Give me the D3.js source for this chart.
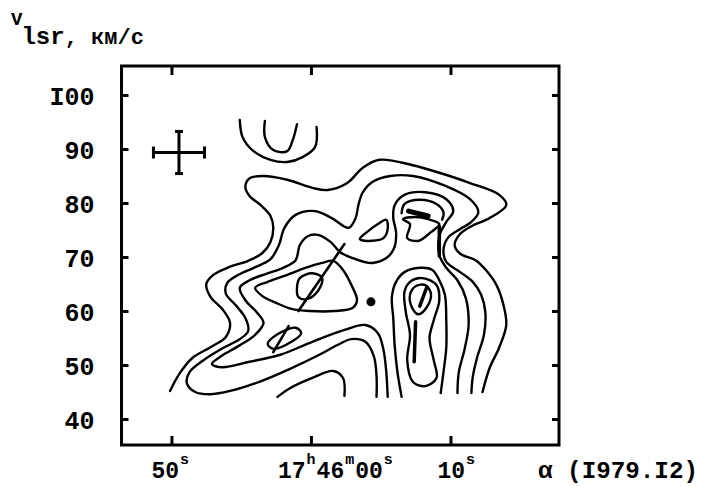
<!DOCTYPE html>
<html><head><meta charset="utf-8">
<script src="https://cdn.jsdelivr.net/npm/d3@7"></script>
<style>
html,body{margin:0;padding:0;background:#fff;}
svg{display:block;}
text{font-family:"Liberation Mono","DejaVu Sans Mono",monospace;font-weight:bold;fill:#000;}
</style></head>
<body>
<svg id="chart" width="701" height="486"></svg>
<script>
// ---- data: RA offset in seconds from 17h46m00s (x), V_lsr km/s (y) ----
const yTicks = [40, 50, 60, 70, 80, 90, 100];
const xTicks = [-10, 0, 10];
const xTickLabels = [["50","s"], ["17","h","46","m","00","s"], ["10","s"]];
const xAxisTitle = "α (I979.I2)";
const yAxisTitle = ["V", "lsr", ", км/с"];

const uArcOuter = [[-5.1,95.4],[-4.9,92.2],[-4.2,89.8],[-2.9,88.0],[-1.7,87.6],[-0.6,88.5],[0.3,90.4],[0.4,94.1]];
const uArcInner = [[-3.3,95.2],[-3.3,92.2],[-2.7,89.8],[-1.7,89.6],[-1.3,91.7],[-1.0,94.6]];

const level1 = [[-10.1,45.2],[-9.4,48.5],[-8.5,51.3],[-7.2,53.3],[-6.1,55.2],[-5.8,57.8],[-6.3,60.2],[-7.2,62.6],[-7.5,65.0],[-7.0,66.7],[-5.8,68.2],[-4.5,69.3],[-3.5,70.7],[-2.9,72.8],[-2.7,75.4],[-2.9,77.6],[-3.6,79.6],[-4.4,81.3],[-4.7,83.0],[-4.4,84.6],[-3.4,85.0],[-1.7,84.3],[0.1,82.8],[1.2,82.4],[2.6,83.7],[3.7,86.5],[4.9,88.0],[7.3,87.0],[9.2,85.6],[11.4,83.7],[13.5,81.5],[14.0,79.6],[12.8,77.2],[11.5,75.7],[10.7,74.3],[10.3,72.2],[10.7,70.6],[11.8,69.4],[12.6,67.4],[13.3,64.8],[13.8,61.1],[14.0,57.4],[13.5,53.3],[12.8,49.4],[12.3,45.0]];

const level2 = [[4.7,44.1],[4.7,48.0],[4.5,51.7],[3.9,54.3],[2.9,54.8],[1.9,53.7],[0.6,51.9],[-1.5,49.3],[-3.7,46.9],[-5.8,45.2],[-7.2,44.6],[-8.3,45.0],[-8.9,46.7],[-8.7,48.7],[-7.7,50.9],[-6.4,53.0],[-5.1,54.8],[-4.5,56.3],[-4.7,58.7],[-5.4,61.1],[-6.1,63.2],[-6.0,65.2],[-5.2,66.7],[-4.1,68.0],[-2.9,69.6],[-2.3,72.2],[-1.9,75.4],[-1.1,77.8],[0.3,78.5],[1.5,77.2],[2.7,75.4],[3.2,77.2],[3.4,79.6],[3.7,81.9],[4.4,83.9],[5.7,85.0],[7.3,85.0],[9.6,83.2],[11.4,80.7],[12.0,78.3],[11.4,76.3],[10.7,75.2],[9.8,73.5],[9.5,71.3],[9.7,69.1],[10.7,67.2],[11.6,65.4],[12.2,63.0],[12.5,59.8],[12.4,55.6],[11.9,51.3],[11.6,47.8],[11.5,44.8]];

const level3 = [[5.5,44.1],[5.4,48.7],[5.2,52.8],[4.8,55.9],[3.9,57.4],[2.4,56.5],[0.1,54.3],[-2.2,51.9],[-4.4,50.6],[-6.4,49.6],[-7.1,50.2],[-6.4,51.7],[-5.2,53.5],[-4.0,55.6],[-3.4,57.8],[-3.9,59.8],[-4.7,62.0],[-5.1,64.3],[-4.4,65.7],[-3.2,66.9],[-2.0,68.0],[-1.1,69.4],[-0.8,72.2],[-0.2,73.9],[0.5,74.1],[1.4,72.8],[2.1,70.9],[3.2,69.6],[4.4,68.9],[5.5,70.0],[6.0,71.9],[6.1,74.6],[5.9,77.2],[6.0,79.6],[6.7,81.5],[8.2,82.0],[9.7,80.7],[10.2,78.5],[9.7,76.5],[9.2,73.9],[9.2,70.4],[9.7,68.0],[10.5,65.7],[11.1,62.4],[11.3,57.4],[11.0,52.8],[10.6,48.7],[10.5,44.8]];

const triangleLoop = [[-4.0,64.3],[-3.1,65.4],[-1.9,66.5],[-0.4,68.0],[0.8,68.9],[1.6,69.3],[2.3,67.6],[2.9,64.8],[3.3,62.0],[3.0,60.6],[1.7,60.0],[-0.1,60.0],[-1.4,60.4],[-2.5,61.5],[-3.5,62.8]];
const innerOval = [[-1.0,64.4],[-0.8,66.1],[0.1,67.0],[0.8,66.1],[0.5,63.7],[-0.3,62.2],[-0.9,62.6]];
const diagonalBar = [[2.4,72.4],[-0.9,60.0]];
const lozenge = [[-3.1,53.9],[-2.4,55.7],[-1.1,56.9],[-0.7,55.9],[-1.4,54.3],[-2.7,53.0]];
const lozengeBar = [[-1.6,57.2],[-2.7,52.4]];
const smallLoop = [[3.5,73.3],[4.1,74.8],[4.8,76.1],[5.4,76.9],[5.5,75.2],[5.2,73.5],[4.4,73.0]];
const bottomArc = [[-2.4,44.1],[-1.5,45.7],[0.1,47.6],[1.6,48.9],[2.3,47.6],[2.4,44.3]];
const sourceDot = [[4.3,61.7]];

const rightArch = [[6.5,44.1],[6.2,48.7],[6.0,53.7],[5.9,58.7],[5.8,62.6],[6.1,65.4],[6.7,67.2],[7.8,68.0],[8.7,67.6],[9.2,65.7],[9.6,63.0],[9.7,58.3],[9.7,53.2],[9.5,48.7],[9.3,44.8]];
const rightLoop = [[6.7,63.5],[7.1,65.4],[8.0,66.1],[9.0,64.8],[9.2,62.0],[8.8,58.3],[8.5,55.0],[8.8,50.9],[9.0,47.6],[8.2,46.1],[7.3,46.9],[6.9,50.9],[7.1,55.6],[6.8,59.8]];
const rightInnerLoop = [[7.1,63.0],[7.5,64.6],[8.2,64.8],[8.6,63.2],[8.3,60.7],[7.7,59.4],[7.2,60.9]];
const rightInnerBar = [[8.3,64.4],[7.8,60.9]];
const neckBar = [[7.5,58.0],[7.4,50.6]];

const topArc = [[6.5,78.1],[6.7,79.8],[7.8,80.6],[9.0,79.8],[9.5,78.3],[9.4,76.9]];
const topBlob = [[7.0,78.5],[8.4,77.6]];
const topTriangle = [[6.6,77.0],[7.1,76.1],[6.9,73.5],[7.7,73.0],[8.6,74.6],[9.2,76.1],[8.4,77.0],[7.5,77.4]];
const topBar = [[9.2,75.7],[9.2,70.2]];

const errCross = {ra: -9.46, v: 89.35, dRa: 1.83, dV: 3.9};

// ---- drawing ----
const svg = d3.select("#chart");
const x = d3.scaleLinear().domain([-13.58, 17.78]).range([121.5, 559]);
const y = d3.scaleLinear().domain([35.19, 105.37]).range([445, 66]);

const openLine = d3.line().x(d => x(d[0])).y(d => y(d[1])).curve(d3.curveCatmullRom.alpha(0.5));
const closedLine = d3.line().x(d => x(d[0])).y(d => y(d[1])).curve(d3.curveCatmullRomClosed.alpha(0.5));
const straight = d3.line().x(d => x(d[0])).y(d => y(d[1]));

const g = svg.append("g").attr("fill", "none").attr("stroke", "#000").attr("stroke-linejoin", "round").attr("stroke-linecap", "round");
[uArcOuter, uArcInner, level1, level2, level3, bottomArc, rightArch, topArc].forEach(c =>
  g.append("path").attr("d", openLine(c)).attr("stroke-width", 2.4));
[triangleLoop, innerOval, lozenge, smallLoop, rightLoop, rightInnerLoop, topTriangle].forEach(c =>
  g.append("path").attr("d", closedLine(c)).attr("stroke-width", 2.4));
[diagonalBar, lozengeBar].forEach(c => g.append("path").attr("d", straight(c)).attr("stroke-width", 2.6));
[rightInnerBar, neckBar, topBar].forEach(c => g.append("path").attr("d", straight(c)).attr("stroke-width", 3.5));
g.append("path").attr("d", straight(topBlob)).attr("stroke-width", 5);

svg.selectAll("circle.src").data(sourceDot).join("circle").attr("class", "src")
  .attr("cx", d => x(d[0])).attr("cy", d => y(d[1])).attr("r", 4.5).attr("fill", "#000");

// error cross
const ec = svg.append("g").attr("stroke", "#000").attr("stroke-width", 3);
ec.append("line").attr("x1", x(errCross.ra - errCross.dRa)).attr("x2", x(errCross.ra + errCross.dRa)).attr("y1", y(errCross.v)).attr("y2", y(errCross.v));
ec.append("line").attr("x1", x(errCross.ra)).attr("x2", x(errCross.ra)).attr("y1", y(errCross.v - errCross.dV)).attr("y2", y(errCross.v + errCross.dV));
[errCross.ra - errCross.dRa, errCross.ra + errCross.dRa].forEach(r =>
  ec.append("line").attr("x1", x(r)).attr("x2", x(r)).attr("y1", y(errCross.v) - 6).attr("y2", y(errCross.v) + 6));
[errCross.v - errCross.dV, errCross.v + errCross.dV].forEach(v =>
  ec.append("line").attr("x1", x(errCross.ra) - 4).attr("x2", x(errCross.ra) + 4).attr("y1", y(v)).attr("y2", y(v)));

// axes
const fmt = d => String(d).replace(/1/g, "I");
const axLeft = svg.append("g").attr("transform", `translate(${x.range()[0]},0)`)
  .call(d3.axisLeft(y).tickValues(yTicks).tickSize(-7).tickPadding(27).tickFormat(fmt));
const axRight = svg.append("g").attr("transform", `translate(${x.range()[1]},0)`)
  .call(d3.axisRight(y).tickValues(yTicks).tickSize(-7).tickFormat(""));
const axTop = svg.append("g").attr("transform", `translate(0,${y.range()[1]})`)
  .call(d3.axisTop(x).tickValues(xTicks).tickSize(-9).tickFormat(""));
const axBottom = svg.append("g").attr("transform", `translate(0,${y.range()[0]})`)
  .call(d3.axisBottom(x).tickValues(xTicks).tickSize(-9).tickFormat(""));
[axLeft, axRight, axTop, axBottom].forEach(a => {
  a.select(".domain").remove();
  a.selectAll(".tick line").attr("stroke", "#000").attr("stroke-width", 3);
});
axLeft.selectAll(".tick text").attr("font-size", 25).attr("dy", "0.38em")
  .style("font-family", '"Liberation Mono", monospace').style("font-weight", "bold");

svg.append("rect").attr("x", x.range()[0]).attr("y", y.range()[1])
  .attr("width", x.range()[1] - x.range()[0]).attr("height", y.range()[0] - y.range()[1])
  .attr("fill", "none").attr("stroke", "#000").attr("stroke-width", 3);

// x tick labels with superscript units
const labelDx = [-21, -34, -14];
const labelBase = 478;
xTickLabels.forEach((parts, i) => {
  const t = svg.append("text").attr("x", x(xTicks[i]) + labelDx[i]).attr("y", labelBase).attr("font-size", 23);
  parts.forEach((p, j) => {
    const sup = j % 2 === 1;
    t.append("tspan").text(p)
      .attr("font-size", sup ? 15 : 23)
      .attr("dy", sup ? -14 : (j > 0 ? 14 : 0))
      .attr("dx", sup ? 1 : 1);
  });
});
svg.append("text").attr("x", 538).attr("y", labelBase).attr("font-size", 24)
  .attr("textLength", 160).attr("lengthAdjust", "spacingAndGlyphs").text(xAxisTitle);

// y axis title
const yt = svg.append("text").attr("x", 11).attr("y", 25);
yt.append("tspan").text(yAxisTitle[0]).attr("font-size", 19);
yt.append("tspan").text(yAxisTitle[1]).attr("font-size", 24).attr("dy", 19).attr("dx", -1);
yt.append("tspan").text(yAxisTitle[2]).attr("font-size", 22);
</script>
</body></html>
